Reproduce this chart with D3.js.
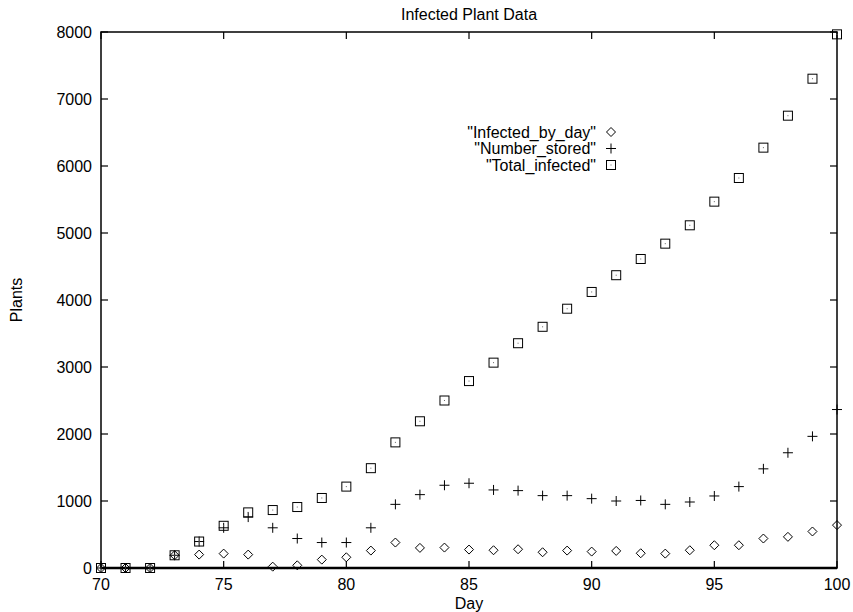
<!DOCTYPE html>
<html>
<head>
<title>Infected Plant Data</title>
<script src="https://d3js.org/d3.v7.min.js"></script>
<style>
  body { margin: 0; background: #fff; }
  svg { display: block; font-family: "Liberation Sans", Arial, Helvetica, sans-serif; }
</style>
</head>
<body>
<svg id="chart"></svg>
<script>
const width = 853, height = 612;
const margin = { top: 32, right: 16, bottom: 44, left: 101 };
const fontSize = 16;

// data
const days = d3.range(70, 101);
const infectedByDay = [0, 0, 0, 190, 200, 215, 200, 20, 40, 125, 160,
  260, 380, 300, 305, 275, 265, 280, 235, 260, 245, 255, 220, 215, 265,
  340, 340, 440, 465, 545, 640];
const numberStored = [0, 0, 0, 190, 395, 600, 760, 600, 440, 380, 380,
  600, 950, 1095, 1235, 1265, 1165, 1155, 1080, 1080, 1035, 1000, 1008, 950, 985,
  1075, 1215, 1480, 1720, 1965, 2365];
const totalInfected = [0, 0, 0, 190, 395, 630, 830, 865, 910, 1045, 1215,
  1490, 1875, 2190, 2500, 2790, 3065, 3355, 3600, 3870, 4120, 4370, 4612, 4841, 5115,
  5468, 5821, 6274, 6751, 7303, 7965];
const xTicks = [70, 75, 80, 85, 90, 95, 100];
const yTicks = [0, 1000, 2000, 3000, 4000, 5000, 6000, 7000, 8000];
const seriesNames = ['"Infected_by_day"', '"Number_stored"', '"Total_infected"'];

const svg = d3.select("#chart").attr("width", width).attr("height", height);

const x = d3.scaleLinear().domain([70, 100]).range([margin.left, width - margin.right]);
const y = d3.scaleLinear().domain([0, 8000]).range([height - margin.bottom, margin.top]);

const x0 = x.range()[0], x1 = x.range()[1], y0 = y.range()[0], y1 = y.range()[1];
const tick = 7;

// border
svg.append("rect")
  .attr("x", x0).attr("y", y1)
  .attr("width", x1 - x0).attr("height", y0 - y1)
  .attr("fill", "none").attr("stroke", "#000").attr("stroke-width", 1.5);
svg.append("line")
  .attr("x1", x0).attr("x2", x1).attr("y1", y(0)).attr("y2", y(0))
  .attr("stroke", "#000").attr("stroke-width", 2.5);

// ticks (gnuplot style: inward, mirrored)
const g = svg.append("g").attr("stroke", "#000").attr("stroke-width", 1.2);
yTicks.forEach(t => {
  g.append("line").attr("x1", x0).attr("x2", x0 + tick).attr("y1", y(t)).attr("y2", y(t));
  g.append("line").attr("x1", x1).attr("x2", x1 - tick).attr("y1", y(t)).attr("y2", y(t));
});
xTicks.forEach(t => {
  g.append("line").attr("x1", x(t)).attr("x2", x(t)).attr("y1", y0).attr("y2", y0 - tick);
  g.append("line").attr("x1", x(t)).attr("x2", x(t)).attr("y1", y1).attr("y2", y1 + tick);
});

svg.append("g").selectAll("text").data(yTicks).join("text")
  .attr("x", x0 - 9).attr("y", d => y(d)).attr("dy", "0.35em")
  .attr("text-anchor", "end").attr("font-size", fontSize).text(d => d);
svg.append("g").selectAll("text").data(xTicks).join("text")
  .attr("x", d => x(d)).attr("y", y0 + 22)
  .attr("text-anchor", "middle").attr("font-size", fontSize).text(d => d);

// labels
svg.append("text").attr("x", (x0 + x1) / 2).attr("y", 20)
  .attr("text-anchor", "middle").attr("font-size", fontSize).text("Infected Plant Data");
svg.append("text").attr("x", (x0 + x1) / 2).attr("y", 609)
  .attr("text-anchor", "middle").attr("font-size", fontSize).text("Day");
svg.append("text").attr("transform", `translate(22,${(y0 + y1) / 2}) rotate(-90)`)
  .attr("text-anchor", "middle").attr("font-size", fontSize).text("Plants");

// point symbols
function diamond(sel, cx, cy) {
  sel.append("path")
    .attr("d", `M${cx},${cy - 4.5}L${cx + 4.5},${cy}L${cx},${cy + 4.5}L${cx - 4.5},${cy}Z`)
    .attr("fill", "none").attr("stroke", "#000").attr("stroke-width", 1);
}
function plus(sel, cx, cy) {
  sel.append("path")
    .attr("d", `M${cx - 5},${cy}H${cx + 5}M${cx},${cy - 5}V${cy + 5}`)
    .attr("stroke", "#000").attr("stroke-width", 1);
}
function square(sel, cx, cy) {
  sel.append("rect").attr("x", cx - 4.5).attr("y", cy - 4.5)
    .attr("width", 9).attr("height", 9)
    .attr("fill", "none").attr("stroke", "#000").attr("stroke-width", 1);
  sel.append("rect").attr("x", cx - 0.5).attr("y", cy - 0.5)
    .attr("width", 1).attr("height", 1).attr("fill", "#666");
}
const symbols = [diamond, plus, square];
const seriesData = [infectedByDay, numberStored, totalInfected];

const pts = svg.append("g");
seriesData.forEach((vals, s) => {
  const gs = pts.append("g");
  days.forEach((d, i) => symbols[s](gs, x(d), y(vals[i])));
});

// legend
const legend = svg.append("g");
seriesNames.forEach((name, i) => {
  const ly = 132 + i * 16.5;
  legend.append("text").attr("x", 596).attr("y", ly).attr("dy", "0.35em")
    .attr("text-anchor", "end").attr("font-size", fontSize).text(name);
  symbols[i](legend, 611, ly);
});
</script>
</body>
</html>
